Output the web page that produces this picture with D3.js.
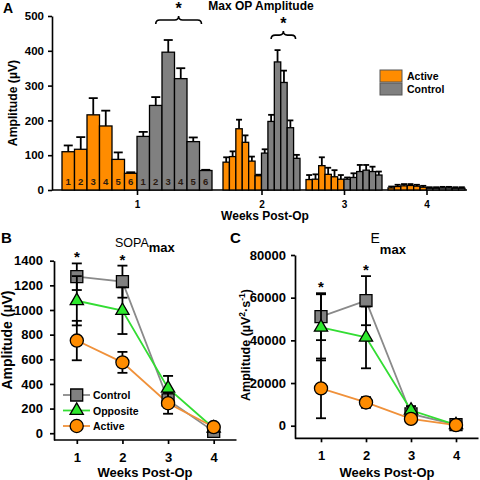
<!DOCTYPE html>
<html><head><meta charset="utf-8">
<script src="https://cdn.jsdelivr.net/npm/d3@7"></script>
<style>
body{margin:0;background:#fff}
svg{display:block;font-family:"Liberation Sans",Arial,sans-serif}
</style>
</head><body>
<svg id="c" width="480" height="480"></svg>
<script>
// ---------- DATA ----------
const weeks = [1, 2, 3, 4];
const barNumbers = [1, 2, 3, 4, 5, 6];
// Panel A: Max OP amplitude (µV), per week, OP 1..6
const activeOP     = [[110,117,216,184,88,48],[80,96,176,137,83,41],[30,31,70,45,38,31],[6,10,12,13,11,8]];
const activeOPErr  = [[18,35,48,44,20,3],[14,15,26,20,13,3],[13,14,24,19,19,12],[4,5,5,4,4,4]];
const controlOP    = [[154,243,396,320,139,56],[106,197,368,309,179,91],[31,36,53,57,53,43],[5,5,6,6,5,5]];
const controlOPErr = [[13,24,35,30,12,2],[11,19,34,34,21,10],[5,12,19,15,14,10],[3,3,3,3,3,3]];
const opSigWeeks = [1, 2];
const opTicksY = [0, 100, 200, 300, 400, 500];
// Panel B: SOPAmax (µV)
const sopaControl = [1270, 1230, 270, 15];
const sopaControlErr = [108, 130, 60, 10];
const sopaOpposite = [1075, 995, 365, 40];
const sopaOppositeErr = [200, 190, 100, 10];
const sopaActive = [752, 575, 243, 50];
const sopaActiveErr = [160, 85, 85, 10];
const sopaSigWeeks = [1, 2];
const sopaTicksY = [0, 200, 400, 600, 800, 1000, 1200, 1400];
// Panel C: Emax (µV²·s⁻¹)
const eControl = [51100, 58600, 5500, 500];
const eControlErr = [11000, 11500, 2000, 500];
const eOpposite = [46100, 41400, 7200, 400];
const eOppositeErr = [15500, 14500, 2000, 300];
const eActive = [17500, 10900, 3200, 300];
const eActiveErr = [14000, 2500, 1000, 300];
const eSigWeeks = [1, 2];
const eTicksY = [0, 20000, 40000, 60000, 80000];

// ---------- STYLE / LAYOUT ----------
const ORANGE = "#FF8C00", GRAY = "#808080", GREEN = "#2EE82E";
const svg = d3.select("#c");
const bold = s => s.attr("font-weight", "bold");

// ================= PANEL A =================
const yA = d3.scaleLinear().domain([0, 500]).range([190, 16]);
const groupSpan = [[62, 212], [223, 300], [306, 382], [388, 465]];
const xWeekA = d3.scaleOrdinal().domain(weeks).range(groupSpan.map(s => (s[0] + s[1]) / 2));
const gA = svg.append("g");

const yAxA = gA.append("g").attr("transform", "translate(52,0)")
  .call(d3.axisLeft(yA).tickValues(opTicksY).tickSize(4).tickSizeOuter(0).tickPadding(4));
const xAxA = gA.append("g").attr("transform", `translate(0,${yA(0)})`)
  .call(d3.axisBottom(xWeekA).tickValues(weeks).tickSize(5).tickSizeOuter(0).tickPadding(6));
xAxA.select(".domain").remove();
gA.append("line").attr("x1", 52).attr("x2", groupSpan[3][1] + 2)
  .attr("y1", yA(0)).attr("y2", yA(0)).attr("stroke", "#000").attr("stroke-width", 1.6);
yAxA.selectAll("text").attr("font-size", 11.5).attr("font-weight", "bold").attr("fill", "#000");
xAxA.selectAll("text").attr("font-size", 10).attr("font-weight", "bold").attr("fill", "#000");
[yAxA, xAxA].forEach(a => a.selectAll("path,line").attr("stroke-width", 1.6));

weeks.forEach((w, i) => {
  const band = d3.scaleBand().domain(d3.range(12)).range(groupSpan[i]).padding(0);
  const bw = band.bandwidth();
  const rows = [];
  barNumbers.forEach((n, j) => rows.push({ k: j, v: activeOP[i][j], e: activeOPErr[i][j], c: ORANGE, n }));
  barNumbers.forEach((n, j) => rows.push({ k: 6 + j, v: controlOP[i][j], e: controlOPErr[i][j], c: GRAY, n }));
  const g = gA.append("g");
  const capW = Math.max(bw * 0.72, 6);
  g.selectAll(".ev").data(rows).join("line")
    .attr("x1", d => band(d.k) + bw / 2).attr("x2", d => band(d.k) + bw / 2)
    .attr("y1", d => yA(d.v)).attr("y2", d => yA(d.v + d.e))
    .attr("stroke", "#000").attr("stroke-width", 1.8);
  g.selectAll(".ec").data(rows).join("line")
    .attr("x1", d => band(d.k) + bw / 2 - capW / 2).attr("x2", d => band(d.k) + bw / 2 + capW / 2)
    .attr("y1", d => yA(d.v + d.e)).attr("y2", d => yA(d.v + d.e))
    .attr("stroke", "#000").attr("stroke-width", 1.8);
  g.selectAll("rect").data(rows).join("rect")
    .attr("x", d => band(d.k)).attr("width", bw)
    .attr("y", d => yA(d.v)).attr("height", d => yA(0) - yA(d.v))
    .attr("fill", d => d.c).attr("stroke", "#000").attr("stroke-width", 1.3);
  if (i === 0) {
    g.selectAll("text").data(rows).join("text")
      .attr("x", d => band(d.k) + bw / 2).attr("y", yA(0) - 5)
      .attr("text-anchor", "middle").attr("font-size", 9.5).attr("font-weight", "bold")
      .attr("fill", "#2a1a10").text(d => d.n);
  }
  if (opSigWeeks.includes(w)) {
    const xa = band(7) + bw / 2, xb = band(11) + 2, xm = (xa + xb) / 2;
    const top = d3.max(rows, d => d.v + d.e);
    const yb = yA(top) - (i === 0 ? 20 : 15);
    const r = 4;
    g.append("path")
      .attr("d", `M${xa},${yb + r} Q${xa},${yb} ${xa + r},${yb} L${xm - r},${yb} Q${xm},${yb} ${xm},${yb - r} Q${xm},${yb} ${xm + r},${yb} L${xb - r},${yb} Q${xb},${yb} ${xb},${yb + r}`)
      .attr("fill", "none").attr("stroke", "#000").attr("stroke-width", 1.6);
    g.append("text").attr("x", xm).attr("y", yb - 6).attr("text-anchor", "middle")
      .attr("font-size", 16).attr("font-weight", "bold").text("*");
  }
});

bold(gA.append("text").attr("x", 3).attr("y", 13).attr("font-size", 14).text("A"));
bold(gA.append("text").attr("x", 261).attr("y", 10).attr("text-anchor", "middle").attr("font-size", 12).text("Max OP Amplitude"));
bold(gA.append("text").attr("x", 265).attr("y", 220).attr("text-anchor", "middle").attr("font-size", 12).text("Weeks Post-Op"));
bold(gA.append("text").attr("transform", "translate(17,103) rotate(-90)").attr("text-anchor", "middle").attr("font-size", 12.2).text("Amplitude (µV)"));
const legA = [{ name: "Active", c: ORANGE }, { name: "Control", c: GRAY }];
legA.forEach((d, i) => {
  gA.append("rect").attr("x", 380).attr("y", 70 + i * 13).attr("width", 22).attr("height", 12)
    .attr("fill", d.c).attr("stroke", "#555").attr("stroke-width", 1);
  bold(gA.append("text").attr("x", 407).attr("y", 80 + i * 12.5).attr("font-size", 10.5).text(d.name));
});

// ================= PANELS B & C =================
function linePanel(o) {
  const g = svg.append("g");
  const x = d3.scaleLinear().domain([0.5, 4.5]).range(o.xr);
  const y = d3.scaleLinear().domain(o.yd).range(o.yr);
  const ya = g.append("g").attr("transform", `translate(${o.yAxisX},0)`)
    .call(d3.axisLeft(y).tickValues(o.ticks).tickSize(4).tickSizeOuter(0).tickPadding(o.pad).tickFormat(d3.format("d")));
  const xa = g.append("g").attr("transform", `translate(0,${o.yr[0]})`)
    .call(d3.axisBottom(x).tickValues(weeks).tickSize(4).tickSizeOuter(0).tickPadding(8.5).tickFormat(d3.format("d")));
  xa.select(".domain").attr("d", `M${o.yAxisX},0H${o.xr[1]}`);
  [ya, xa].forEach(a => {
    a.selectAll("text").attr("font-size", 13).attr("font-weight", "bold").attr("fill", "#000");
    a.selectAll("path,line").attr("stroke-width", 1.7);
  });
  const line = d3.line().x((d, i) => x(weeks[i])).y(d => y(d));
  o.series.forEach(s => {
    g.append("path").attr("d", line(s.v)).attr("fill", "none").attr("stroke", s.lc).attr("stroke-width", 1.8);
  });
  o.series.forEach(s => {
    const rows = s.v.map((v, i) => ({ w: weeks[i], v, e: s.e[i] }));
    const eg = g.append("g").attr("stroke", "#000").attr("stroke-width", 1.8);
    eg.selectAll(".v").data(rows).join("line").attr("x1", d => x(d.w)).attr("x2", d => x(d.w))
      .attr("y1", d => y(d.v - d.e)).attr("y2", d => y(d.v + d.e));
    eg.selectAll(".t").data(rows).join("line").attr("x1", d => x(d.w) - 5).attr("x2", d => x(d.w) + 5)
      .attr("y1", d => y(d.v + d.e)).attr("y2", d => y(d.v + d.e));
    eg.selectAll(".b").data(rows).join("line").attr("x1", d => x(d.w) - 5).attr("x2", d => x(d.w) + 5)
      .attr("y1", d => y(d.v - d.e)).attr("y2", d => y(d.v - d.e));
    g.append("g").selectAll("path").data(rows).join("path")
      .attr("transform", d => `translate(${x(d.w)},${y(d.v)})`)
      .attr("d", d3.symbol().type(s.sym).size(s.size)())
      .attr("fill", s.fc).attr("stroke", "#000").attr("stroke-width", 1.3);
  });
  o.sig.forEach(w => {
    const i = weeks.indexOf(w);
    const top = d3.max(o.series, s => s.v[i] + s.e[i]);
    g.append("text").attr("x", x(w)).attr("y", y(top) - 1).attr("text-anchor", "middle")
      .attr("font-size", 15).attr("font-weight", "bold").text("*");
  });
  return { g, x, y };
}

const mkSeries = (c, ce, op, ope, ac, ace) => [
  { name: "Control", v: c, e: ce, fc: GRAY, lc: "#8a8a8a", sym: d3.symbolSquare, size: 144 },
  { name: "Opposite", v: op, e: ope, fc: GREEN, lc: "#33dd33", sym: d3.symbolTriangle, size: 76 },
  { name: "Active", v: ac, e: ace, fc: ORANGE, lc: "#f0913a", sym: d3.symbolCircle, size: 135 }
];

linePanel({
  xr: [54, 236.5], yAxisX: 54, yd: [-55, 1400], yr: [440, 260.7], ticks: sopaTicksY, pad: 7,
  series: mkSeries(sopaControl, sopaControlErr, sopaOpposite, sopaOppositeErr, sopaActive, sopaActiveErr),
  sig: sopaSigWeeks
});
linePanel({
  xr: [298.5, 478.5], yAxisX: 295, yd: [-5900, 80000], yr: [438.3, 255], ticks: eTicksY, pad: 5,
  series: mkSeries(eControl, eControlErr, eOpposite, eOppositeErr, eActive, eActiveErr),
  sig: eSigWeeks
});

// Panel B texts
bold(svg.append("text").attr("x", 1).attr("y", 243).attr("font-size", 15).text("B"));
const tB = svg.append("text").attr("x", 115).attr("y", 246.7).attr("font-size", 12.5);
tB.append("tspan").text("SOPA");
tB.append("tspan").attr("dy", 5.6).attr("font-size", 13).attr("font-weight", "bold").text("max");
bold(svg.append("text").attr("x", 145).attr("y", 477).attr("text-anchor", "middle").attr("font-size", 13).text("Weeks Post-Op"));
bold(svg.append("text").attr("transform", "translate(12,340) rotate(-90)").attr("text-anchor", "middle").attr("font-size", 14).text("Amplitude (µV)"));
const legSeries = mkSeries(sopaControl, sopaControlErr, sopaOpposite, sopaOppositeErr, sopaActive, sopaActiveErr);
legSeries.forEach((s, i) => {
  const yy = 395 + i * 15.5;
  svg.append("line").attr("x1", 63).attr("x2", 90).attr("y1", yy).attr("y2", yy).attr("stroke", s.lc).attr("stroke-width", 1.8);
  svg.append("path").attr("transform", `translate(76.7,${yy})`).attr("d", d3.symbol().type(s.sym).size(s.size)())
    .attr("fill", s.fc).attr("stroke", "#000").attr("stroke-width", 1.3);
  bold(svg.append("text").attr("x", 93).attr("y", yy + 4).attr("font-size", 10.5).text(s.name));
});

// Panel C texts
bold(svg.append("text").attr("x", 230).attr("y", 243).attr("font-size", 15).text("C"));
const tC = svg.append("text").attr("x", 370.5).attr("y", 242.7).attr("font-size", 14);
tC.append("tspan").text("E");
tC.append("tspan").attr("dy", 11).attr("font-size", 13).attr("font-weight", "bold").text("max");
bold(svg.append("text").attr("x", 387).attr("y", 477).attr("text-anchor", "middle").attr("font-size", 13).text("Weeks Post-Op"));
const yl = svg.append("text").attr("transform", "translate(250,345) rotate(-90)").attr("text-anchor", "middle")
  .attr("font-size", 12.5).attr("font-weight", "bold");
yl.append("tspan").text("Amplitude (µV");
yl.append("tspan").attr("dy", -5).attr("font-size", 8.5).text("2");
yl.append("tspan").attr("dy", 5).text("·s");
yl.append("tspan").attr("dy", -5).attr("font-size", 8.5).text("-1");
yl.append("tspan").attr("dy", 5).text(")");
</script>
</body></html>
